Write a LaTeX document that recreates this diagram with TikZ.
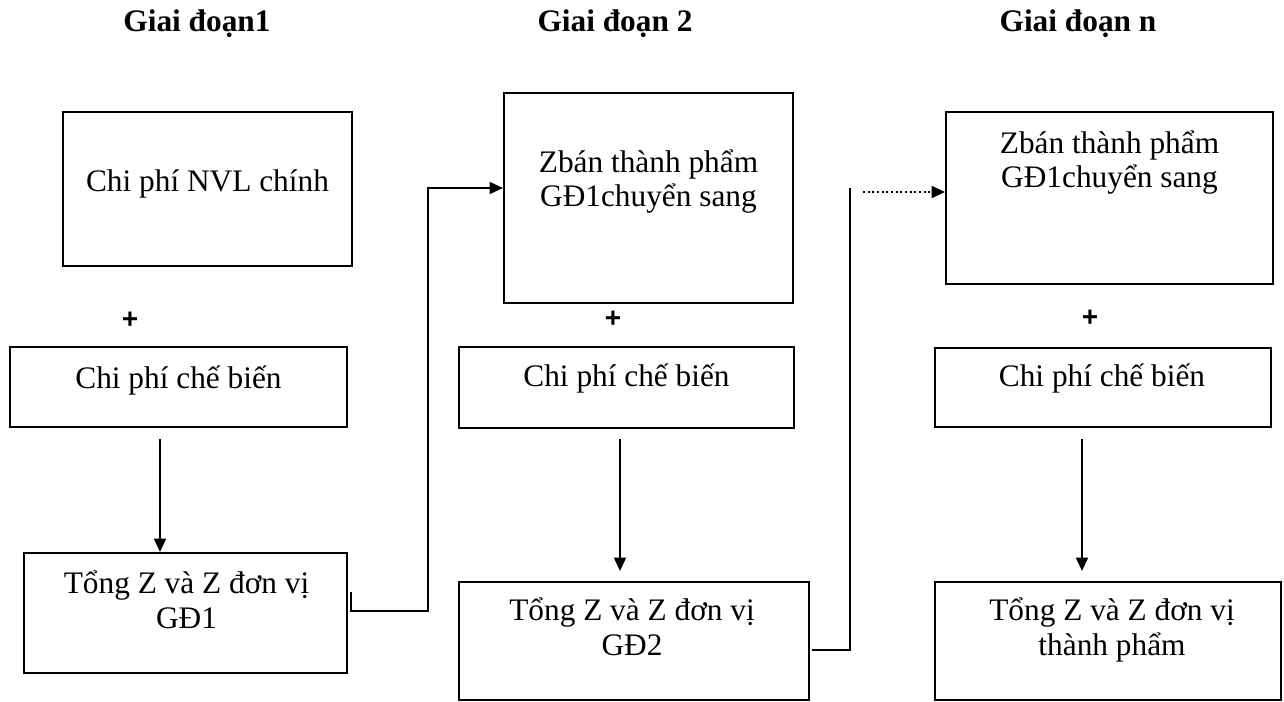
\documentclass[tikz,border=0pt]{standalone}
\usepackage{fontspec}
\setmainfont{Liberation Serif}
\newfontfamily\plusfont{Liberation Sans}
\usetikzlibrary{arrows.meta}
\begin{document}
\begin{tikzpicture}
    [x=0.75pt,y=-0.75pt,
     every node/.style={font=\fontsize{23.5}{26}\selectfont},
     box/.style={draw=black,line width=1.6pt,inner sep=0pt},
     txt/.style={anchor=base,align=center,inner sep=0pt},
     stage/.style={anchor=base,inner sep=0pt,font=\fontsize{23.5}{26}\selectfont\bfseries},
     plus/.style={inner sep=0pt,font=\plusfont\fontsize{21}{24}\selectfont\bfseries},
     conn/.style={line width=1.4pt},
     arr/.style={conn,-{Triangle[length=10pt,width=9pt]}}]
    \useasboundingbox (0,0) rectangle (1284,702);
    \node [stage] (g1) at (197,32) {Giai đoạn1};
    \node [stage] (g2) at (615,32) {Giai đoạn 2};
    \node [stage] (gn) at (1078,32) {Giai đoạn n};
    \node [box,minimum width=216.75pt,minimum height=115.5pt] (nvl) at (207.5,189) {};
    \node [txt] (nvlt) at (207.5,192) {Chi phí NVL chính};
    \node [plus] (p1) at (130,320) {+};
    \node [box,minimum width=252.75pt,minimum height=60pt] (cb1) at (178.5,387) {};
    \node [txt] (cb1t) at (178.5,388) {Chi phí chế biến};
    \node [box,minimum width=242.25pt,minimum height=90pt] (tong1) at (185.5,613) {};
    \node [txt] (tong1t) at (186.5,628) {Tổng Z và Z đơn vị\\GĐ1};
    \node [box,minimum width=216.75pt,minimum height=157.5pt] (btp2) at (648.5,198) {};
    \node [txt] (btp2t) at (648.5,207) {Zbán thành phẩm\\GĐ1chuyển sang};
    \node [plus] (p2) at (613,319) {+};
    \node [box,minimum width=251.25pt,minimum height=60.75pt] (cb2) at (626.5,387.5) {};
    \node [txt] (cb2t) at (626.5,386) {Chi phí chế biến};
    \node [box,minimum width=262.5pt,minimum height=88.5pt] (tong2) at (634,641) {};
    \node [txt] (tong2t) at (632,655) {Tổng Z và Z đơn vị\\GĐ2};
    \node [box,minimum width=245.25pt,minimum height=129pt] (btpn) at (1109.5,198) {};
    \node [txt] (btpnt) at (1109.5,188) {Zbán thành phẩm\\GĐ1chuyển sang};
    \node [plus] (pn) at (1090,318) {+};
    \node [box,minimum width=252pt,minimum height=59.25pt] (cbn) at (1103,387.5) {};
    \node [txt] (cbnt) at (1102,386) {Chi phí chế biến};
    \node [box,minimum width=259.5pt,minimum height=88.5pt] (tongn) at (1108,641) {};
    \node [txt] (tongnt) at (1112,655) {Tổng Z và Z đơn vị\\thành phẩm};
    \draw [arr,shorten <=8.25pt] (160,0 |- cb1.south) -- (160,0 |- tong1.north);
    \draw [arr,shorten <=7.5pt,shorten >=7.5pt] (620,0 |- cb2.south) -- (620,0 |- tong2.north);
    \draw [arr,shorten <=8.25pt,shorten >=7.5pt] (1082,0 |- cbn.south) -- (1082,0 |- tongn.north);
    \coordinate (t1) at (351,592);
    \draw [arr] (t1) |- (428,611) -- (428,188) -- ([yshift=7.5pt]btp2.west);
    \coordinate (t2) at (812,650);
    \draw [conn] (t2) -| (850,188);
    \coordinate (d2) at (863,192);
    \draw [arr,dash pattern=on 1.5pt off 2pt] (d2) -- ([yshift=4.5pt]btpn.west);
\end{tikzpicture}
\end{document}
